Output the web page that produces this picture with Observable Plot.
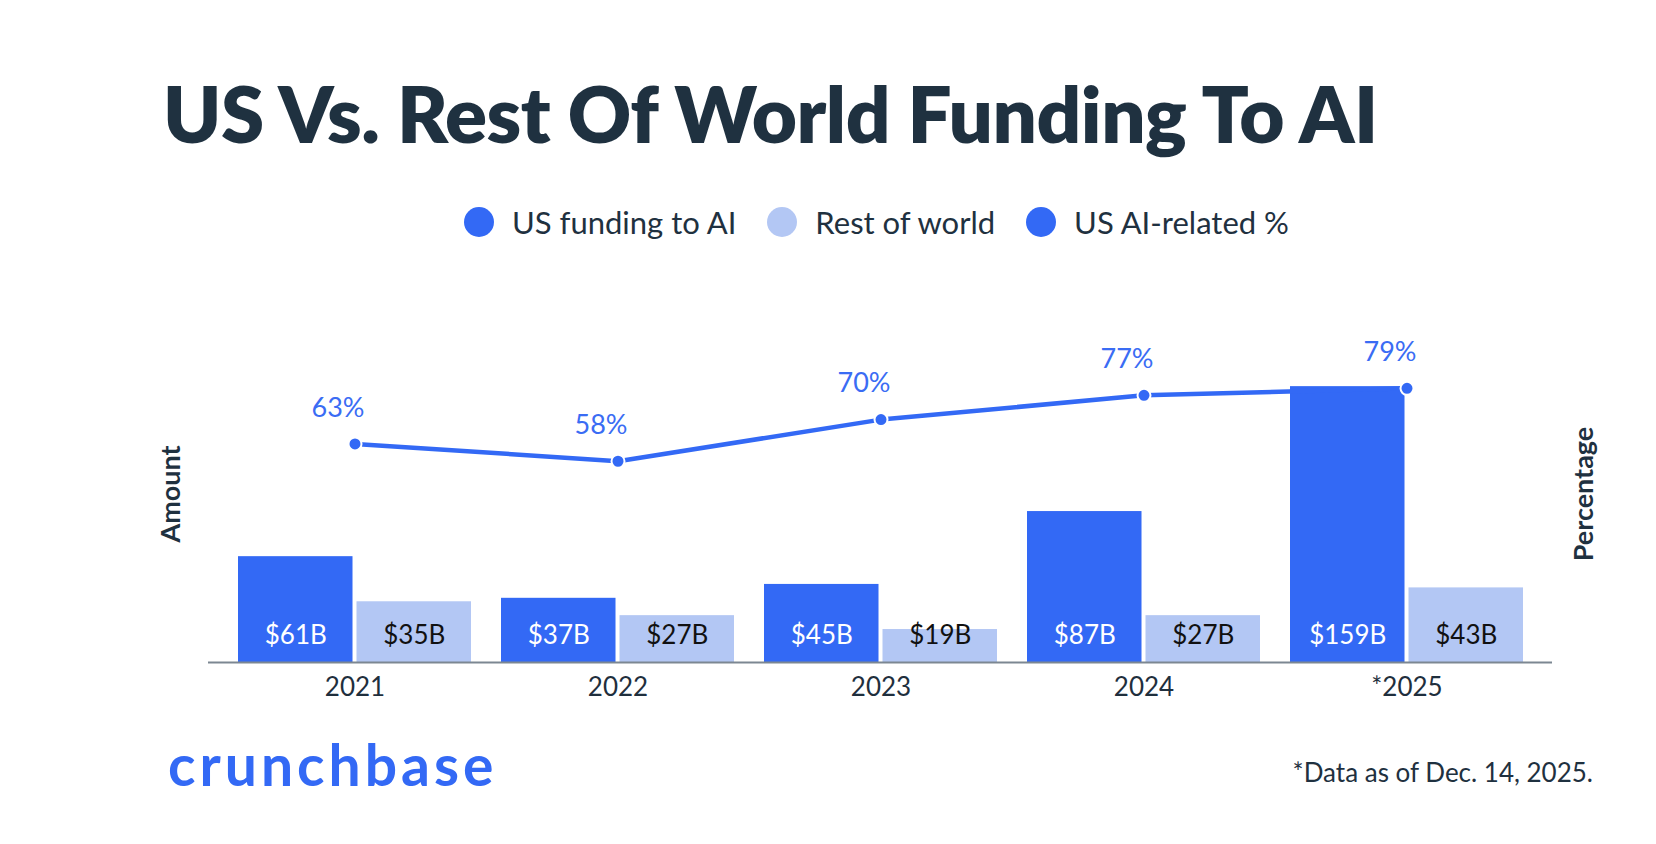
<!DOCTYPE html>
<html>
<head>
<meta charset="utf-8">
<script src="https://cdn.jsdelivr.net/npm/d3@7"></script>
<script src="https://cdn.jsdelivr.net/npm/@observablehq/plot@0.6"></script>
<style>
  html, body { margin: 0; padding: 0; background: #ffffff; }
  #page { position: relative; width: 1656px; height: 844px; overflow: hidden; font-family: Lato, "Noto Sans", sans-serif; color: #1f3140; }
  #title { position: absolute; left: 163px; top: 74px; margin: 0; font-size: 78px; line-height: 1; font-weight: 800; letter-spacing: -0.5px; color: #1f3140; white-space: nowrap; }
  #legend { position: absolute; left: 464px; top: 207px; display: flex; align-items: center; gap: 31px; }
  .item { display: flex; align-items: center; gap: 18px; font-size: 31px; line-height: 30px; color: #1f3140; }
  .swatch { width: 30px; height: 30px; border-radius: 50%; }
  #chart { position: absolute; left: 0; top: 290px; }
  #logo { position: absolute; left: 168px; top: 736px; font-size: 57px; line-height: 1; font-weight: 700; color: #3369f5; letter-spacing: 4px; }
  #note { position: absolute; right: 63px; top: 759px; font-size: 26px; line-height: 1; color: #1f3140; }
</style>
</head>
<body>
<div id="page">
  <h1 id="title">US Vs. Rest Of World Funding To AI</h1>
  <div id="legend"></div>
  <div id="chart"></div>
  <div id="logo">crunchbase</div>
  <div id="note">*Data as of Dec. 14, 2025.</div>
</div>
<script>
// Funding to AI, in billions of dollars, and the US share of the total
const years = ["2021", "2022", "2023", "2024", "*2025"];
const usFunding = [61, 37, 45, 87, 159];
const restOfWorld = [35, 27, 19, 27, 43];
const usShare = [63, 58, 70, 77, 79];

const seriesNames = ["US funding to AI", "Rest of world", "US AI-related %"];
const US_BLUE = "#3369f5";
const ROW_BLUE = "#b3c7f4";
const seriesColors = [US_BLUE, ROW_BLUE, US_BLUE];

const rows = years.map((year, i) => ({
  year,
  us: usFunding[i],
  row: restOfWorld[i],
  share: usShare[i]
}));

// The percentage axis (0–100%) shares the plot height with the amount axis (0–$200B)
const amountMax = 200;
const shareToAmount = d3.scaleLinear().domain([0, 100]).range([0, amountMax]);

// Legend
const legend = d3.select("#legend");
seriesNames.forEach((name, i) => {
  const item = legend.append("div").attr("class", "item");
  item.append("div").attr("class", "swatch").style("background", seriesColors[i]);
  item.append("span").text(name);
});

// Layout of the grouped bars
const W = 1656, H = 430;
const mL = 208, mR = 104, mT = 25, mB = 58;
const padIn = 0.115, padOut = 0.11;
const step = (W - mL - mR) / (years.length - padIn + 2 * padOut);
const bw = step * (1 - padIn);
const gap = 4;
const labelFont = 26;

const chart = Plot.plot({
  width: W,
  height: H,
  marginLeft: mL,
  marginRight: mR,
  marginTop: mT,
  marginBottom: mB,
  style: { fontFamily: "Lato, 'Noto Sans', sans-serif", background: "transparent", overflow: "visible" },
  x: { domain: years, paddingInner: padIn, paddingOuter: padOut, align: 0.5 },
  y: { domain: [0, amountMax], axis: null },
  marks: [
    Plot.barY(rows, { x: "year", y: "us", fill: US_BLUE, insetRight: bw / 2 + gap / 2 }),
    Plot.barY(rows, { x: "year", y: "row", fill: ROW_BLUE, insetLeft: bw / 2 + gap / 2 }),
    Plot.ruleY([0], { stroke: "#7c8792", strokeWidth: 2 }),
    Plot.axisX({ tickSize: 0, tickPadding: 15, fontSize: labelFont, fill: "#1f2f3d", label: null }),
    Plot.text(rows, {
      x: "year", y: 0, text: d => `$${d.us}B`,
      dx: -(bw / 4 + gap / 4), dy: -27, fill: "#ffffff", fontSize: labelFont
    }),
    Plot.text(rows, {
      x: "year", y: 0, text: d => `$${d.row}B`,
      dx: bw / 4 + gap / 4, dy: -27, fill: "#111111", fontSize: labelFont
    }),
    Plot.line(rows, { x: "year", y: d => shareToAmount(d.share), stroke: US_BLUE, strokeWidth: 4.5 }),
    Plot.dot(rows, { x: "year", y: d => shareToAmount(d.share), r: 6.5, fill: US_BLUE, stroke: "#ffffff", strokeWidth: 2 }),
    Plot.text(rows, {
      x: "year", y: d => shareToAmount(d.share), text: d => `${d.share}%`,
      dx: -17, dy: -36, fill: "#3a6cf4", fontSize: 27
    }),
    Plot.text(["Amount"], {
      frameAnchor: "left", textAnchor: "middle", text: d => d, rotate: -90, dx: -37, dy: 5,
      fontSize: 27, fontWeight: 700, fill: "#1f3140"
    }),
    Plot.text(["Percentage"], {
      frameAnchor: "right", textAnchor: "middle", text: d => d, rotate: -90, dx: 32, dy: 5,
      fontSize: 27, fontWeight: 700, fill: "#1f3140"
    })
  ]
});

document.getElementById("chart").appendChild(chart);
</script>
</body>
</html>
